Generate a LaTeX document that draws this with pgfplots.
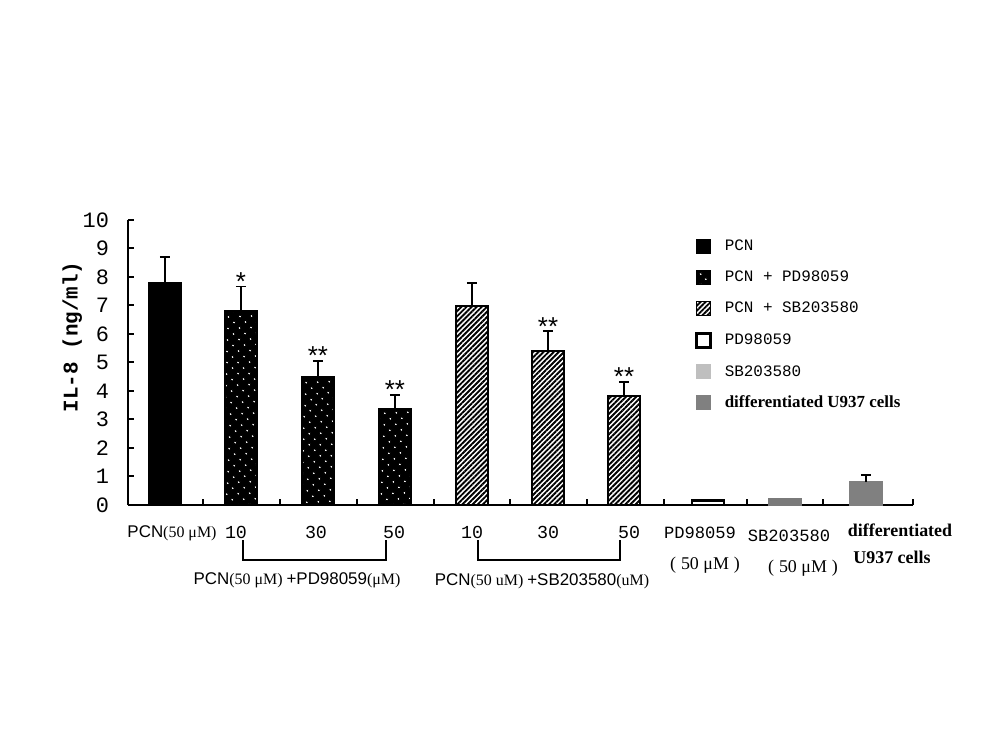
\documentclass[border=0pt]{standalone}
\usepackage{fontspec}
\setmainfont{Liberation Serif}
\newfontfamily\mono{Liberation Mono}
\newfontfamily\arial{Liberation Sans}
\usepackage{pgfplots}
\pgfplotsset{compat=1.18}
\usetikzlibrary{patterns.meta}

\tikzset{
  dotbar/.style={fill=black, draw=black, postaction={pattern={Dots[distance=3.9bp, angle=45, radius=0.5bp]}, pattern color=white}},
  hatchbar/.style={fill=white, draw=black, postaction={pattern={Lines[angle=45, distance=1.8bp, line width=0.95bp]}, pattern color=black}},
}
\pgfplotsset{
  mybar/.style={ybar, bar width=32, line width=0.8bp, forget plot,
    error bars/y dir=plus, error bars/y explicit,
    error bars/error bar style={line width=0.8bp, black, solid},
    error bars/error mark options={rotate=90, line width=0.8bp, black, mark size=2.6bp}},
  nobar/.style={ybar, bar width=32, line width=0.8bp, forget plot},
}
\newcommand\stars[1]{{\arial\fontsize{13}{14}\selectfont #1}}

\begin{document}
\begin{tikzpicture}
\path[use as bounding box] (-64bp,-124bp) rectangle (438bp,252.5bp);
\begin{axis}[
  scale only axis, width=392.5bp, height=142.5bp,
  at={(0,0)}, anchor=south west,
  xmin=0, xmax=785, ymin=0, ymax=10,
  axis lines=left, axis line style={-, line width=1bp, black},
  xtick={75,152,229,306,382,459,536,619,695,785}, xticklabels={},
  ytick={0,1,...,10},
  tick style={black, line width=1bp}, major tick length=3bp,
  tick align=inside,
  /pgf/number format/assume math mode=true,
  yticklabel style={font=\fontsize{11}{12}\mono, xshift=-6bp},
  ylabel={IL-8 (ng/ml)},
  ylabel style={font=\fontsize{10.5}{12}\mono\bfseries, at={(axis description cs:-0.071,0.59)}, anchor=center},
  clip=false,
  legend image code/.code={\draw[#1] (0bp,-3.5bp) rectangle (7bp,3.5bp);},
  legend style={draw=none, fill=none, inner sep=0pt, at={(0.722,0.935)}, anchor=north west,
    font=\fontsize{8}{9}\mono, row sep=7.9bp,
    nodes={inner sep=0pt, text height=6bp, text depth=1.5bp},
    /tikz/every odd column/.append style={column sep=6.5bp}},
  legend cell align=left,
]
% PCN
\addplot[mybar, fill=black, draw=black] coordinates {(37,7.8) +- (0,0.9)};
% PCN + PD98059
\addplot[mybar, dotbar] coordinates {(113,6.8) +- (0,0.86) (190,4.5) +- (0,0.56) (267,3.37) +- (0,0.5)};
% PCN + SB203580
\addplot[mybar, hatchbar] coordinates {(344,6.98) +- (0,0.8) (420,5.4) +- (0,0.7) (496,3.82) +- (0,0.5)};
% PD98059
\addplot[nobar, fill=white, draw=black, line width=1.4bp] coordinates {(580,0.17)};
% SB203580
\addplot[nobar, fill=black!52, draw=black!52] coordinates {(657,0.2)};
% differentiated
\addplot[mybar, fill=black!50, draw=black!50] coordinates {(738,0.8) +- (0,0.25)};

\addlegendimage{fill=black, draw=black}
\addlegendentry{PCN}
\addlegendimage{fill=black, draw=black, postaction={pattern={Dots[distance=3.9bp, angle=45, radius=0.5bp]}, pattern color=white}}
\addlegendentry{PCN + PD98059}
\addlegendimage{hatchbar, line width=0.8bp}
\addlegendentry{PCN + SB203580}
\addlegendimage{fill=white, draw=black, line width=1.3bp}
\addlegendentry{PD98059}
\addlegendimage{fill=black!25, draw=black!25}
\addlegendentry{SB203580}
\addlegendimage{fill=black!50, draw=black!50}
\addlegendentry{\fontsize{8.5}{9}\rmfamily\bfseries differentiated U937 cells}

% significance stars
\node[anchor=base, inner sep=0pt, yshift=-2bp] at (axis cs:113,7.66) {\stars{*}};
\node[anchor=base, inner sep=0pt, yshift=-2bp] at (axis cs:190,5.06) {\stars{**}};
\node[anchor=base, inner sep=0pt, yshift=-2bp] at (axis cs:267,3.87) {\stars{**}};
\node[anchor=base, inner sep=0pt, yshift=-2bp] at (axis cs:420,6.1) {\stars{**}};
\node[anchor=base, inner sep=0pt, yshift=-2bp] at (axis cs:496,4.32) {\stars{**}};

% category labels
\node[font=\fontsize{8}{10}\selectfont] at (axis cs:44,-0.98) {{\arial\fontsize{8.5}{10}\selectfont PCN}(50 μM)};
\node[font=\fontsize{9.2}{11}\mono] at (axis cs:108,-0.98) {10};
\node[font=\fontsize{9.2}{11}\mono] at (axis cs:188,-0.98) {30};
\node[font=\fontsize{9.2}{11}\mono] at (axis cs:266,-0.98) {50};
\node[font=\fontsize{9.2}{11}\mono] at (axis cs:344,-0.98) {10};
\node[font=\fontsize{9.2}{11}\mono] at (axis cs:420,-0.98) {30};
\node[font=\fontsize{9.2}{11}\mono] at (axis cs:501,-0.98) {50};
\draw[line width=0.8bp] (axis cs:115,-1.23) -- (axis cs:115,-1.93) -- (axis cs:258,-1.93) -- (axis cs:258,-1.23);
\draw[line width=0.8bp] (axis cs:350,-1.23) -- (axis cs:350,-1.93) -- (axis cs:492,-1.93) -- (axis cs:492,-1.23);
\node[font=\fontsize{8}{10}\selectfont] at (axis cs:169,-2.63) {{\arial\fontsize{8.5}{10}\selectfont PCN}(50 μM) {\arial\fontsize{8.5}{10}\selectfont +PD98059}(μM)};
\node[font=\fontsize{8}{10}\selectfont] at (axis cs:414,-2.67) {{\arial\fontsize{8.5}{10}\selectfont PCN}(50 uM) {\arial\fontsize{8.5}{10}\selectfont +SB203580}(uM)};
\node[font=\fontsize{8.6}{10}\mono] at (axis cs:572,-0.98) {PD98059};
\node[font=\fontsize{9}{10}\selectfont] at (axis cs:577,-2.1) {(\;50 μM\;)};
\node[font=\fontsize{8.6}{10}\mono] at (axis cs:661,-1.09) {SB203580};
\node[font=\fontsize{9}{10}\selectfont] at (axis cs:675,-2.2) {(\;50 μM\;)};
\node[font=\fontsize{9}{11}\bfseries] at (axis cs:772,-0.88) {differentiated};
\node[font=\fontsize{9}{11}\bfseries] at (axis cs:764,-1.82) {U937 cells};
\end{axis}
\end{tikzpicture}
\end{document}
